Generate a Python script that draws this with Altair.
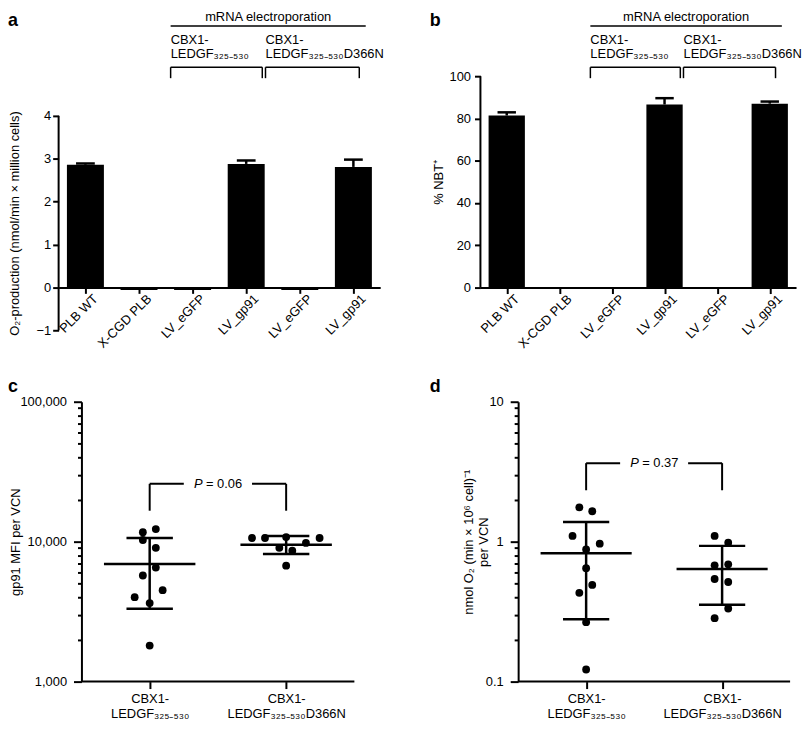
import json
import altair as alt
import pandas as pd

FONT = "Liberation Sans"

# ---------------- data ----------------
bar_categories = ["PLB WT", "X-CGD PLB", "LV_eGFP", "LV_gp91", "LV_eGFP", "LV_gp91"]
a_values = [2.86, -0.06, -0.06, 2.88, -0.06, 2.81]
a_errors = [0.03, 0.0, 0.0, 0.08, 0.0, 0.17]
b_values = [81.4, 0.0, 0.0, 86.6, 0.0, 87.0]
b_errors = [1.5, 0.0, 0.0, 3.0, 0.0, 1.0]

header_title = "mRNA electroporation"
header_line1 = ["CBX1-", "CBX1-"]
header_line2 = ["LEDGF\u2083\u2082\u2085\u208b\u2085\u2083\u2080", "LEDGF\u2083\u2082\u2085\u208b\u2085\u2083\u2080D366N"]
header_span_start = [2.09, 3.86]   # in bar-slot units
header_span_end = [3.80, 5.61]
header_line_span = [2.09, 5.73]

group_labels = [["CBX1-", "LEDGF\u2083\u2082\u2085\u208b\u2085\u2083\u2080"],
                ["CBX1-", "LEDGF\u2083\u2082\u2085\u208b\u2085\u2083\u2080D366N"]]

c_group1 = [11700, 12300, 10280, 9030, 6530, 5730, 4500, 4010, 3640, 1810]
c_jitter1 = [-0.05, 0.045, -0.05, 0.045, 0.045, -0.05, 0.095, -0.11, 0, 0]
c_group2 = [10620, 10620, 10790, 10620, 9790, 9030, 8610, 6740]
c_jitter2 = [-0.25, -0.155, 0, 0.245, 0.145, -0.05, 0.045, 0]
c_mean = [6930, 9520]
c_sd_high = [10620, 10970]
c_sd_low = [3320, 8150]
c_p_text = "= 0.06"
c_bracket = [25900, 16640]

d_group1 = [1.76, 1.65, 1.10, 0.968, 0.879, 0.647, 0.491, 0.431, 0.266, 0.122]
d_jitter1 = [-0.05, 0.045, -0.1, 0.1, 0, 0, 0.045, -0.05, 0, 0]
d_group2 = [1.10, 0.984, 0.678, 0.689, 0.541, 0.515, 0.333, 0.284]
d_jitter2 = [-0.055, 0.045, -0.055, 0.045, -0.055, 0.045, 0.045, -0.055]
d_mean = [0.828, 0.639]
d_sd_high = [1.38, 0.933]
d_sd_low = [0.279, 0.354]
d_p_text = "= 0.37"
d_bracket = [3.64, 2.33]

# ---------------- helpers ----------------
AX = dict(domainColor="black", domainWidth=2, tickColor="black", tickWidth=2,
          labelColor="black", labelFont=FONT, labelFontSize=13,
          titleFont=FONT, titleFontSize=13, titleFontWeight="normal",
          titleColor="black", grid=False, labelOverlap=False)


def letter(ch, dx, dy):
    return alt.Chart(pd.DataFrame({"t": [ch]})).mark_text(
        font=FONT, fontSize=18, fontWeight="bold", align="left",
        baseline="alphabetic", color="black").encode(
        text="t:N", x=alt.value(dx), y=alt.value(dy))


TOP_ROW1 = 73  # reference pixel of the top of the first-row plot areas


def bar_panel(values, errors, ydomain, yvalues, ytitle, width, height, extra_top,
              xoffset, let, label_pad, title_pad, title_y=None):
    n = len(values)
    df = pd.DataFrame({"cat": bar_categories, "value": values, "err": errors,
                       "pos": [i + 0.5 for i in range(n)]})
    unit = height / (ydomain[1] - ydomain[0])
    ytop = ydomain[1] + extra_top / unit
    xs = alt.Scale(domain=[0, n], nice=False, zero=False)
    ys = alt.Scale(domain=[ydomain[0], ytop], nice=False, zero=False)
    names = json.dumps(bar_categories)
    xaxis = alt.Axis(values=[i + 0.5 for i in range(n)], labelExpr=f"{names}[floor(datum.value)]",
                     labelAngle=-45, labelAlign="right", labelBaseline="middle",
                     labelPadding=3, labelOffset=10, tickSize=6, offset=xoffset,
                     title=None, **AX)
    yextra = {} if title_y is None else {"titleY": title_y}
    yaxis = alt.Axis(values=yvalues, tickSize=6, labelPadding=label_pad, title=ytitle, domain=False,
                     titlePadding=title_pad, **yextra, **AX)

    def X(f):
        return alt.X(f, type="quantitative", scale=xs, axis=xaxis)

    def Y(f):
        return alt.Y(f, type="quantitative", scale=ys, axis=yaxis)

    base = alt.Chart(df).transform_calculate(
        xs="datum.pos - 0.345", xe="datum.pos + 0.345",
        cs="datum.pos - 0.175", ce="datum.pos + 0.175",
        top="datum.value + datum.err")
    bars = base.mark_bar(color="black").encode(x=X("xs"), x2="xe:Q", y=Y("value"), y2=alt.datum(0))
    errv = base.transform_filter("datum.err > 0").mark_rule(color="black", strokeWidth=2.5).encode(
        x=X("pos"), y=Y("value"), y2="top:Q")
    errc = base.transform_filter("datum.err > 0").mark_rule(color="black", strokeWidth=2.5).encode(
        x=X("cs"), x2="ce:Q", y=Y("top"))
    # y axis line from the lowest to the highest tick
    yline = alt.Chart(pd.DataFrame({"x": [0], "lo": [ydomain[0]], "hi": [ydomain[1]]})).mark_rule(
        color="black", strokeWidth=2).encode(x=X("x"), y=Y("lo"), y2="hi:Q")

    # header (mRNA electroporation brackets), vertical offsets in px above the plot
    def py(p):
        return p - TOP_ROW1

    hdr = pd.DataFrame({"l1": header_line1, "l2": header_line2,
                        "bs": header_span_start, "be": header_span_end})
    hb = alt.Chart(hdr)
    h_top = alt.Chart(pd.DataFrame({"a": [header_line_span[0]], "b": [header_line_span[1]],
                                    "t": [header_title]}))
    line = h_top.mark_rule(color="black", strokeWidth=1.5).encode(
        x=X("a"), x2="b:Q", y=alt.value(py(22.5)))
    htxt = h_top.transform_calculate(m="(datum.a + datum.b) / 2").mark_text(
        font=FONT, fontSize=13, color="black", align="center", baseline="alphabetic").encode(
        x=X("m"), y=alt.value(py(17.5)), text="t:N")
    bh = hb.mark_rule(color="black", strokeWidth=1.5).encode(x=X("bs"), x2="be:Q", y=alt.value(py(64)))
    bl = hb.mark_rule(color="black", strokeWidth=1.5).encode(x=X("bs"), y=alt.value(py(64)), y2=alt.value(py(75)))
    br = hb.mark_rule(color="black", strokeWidth=1.5).encode(x=X("be"), y=alt.value(py(64)), y2=alt.value(py(75)))
    t1 = hb.mark_text(font=FONT, fontSize=13, color="black", align="left", baseline="alphabetic").encode(
        x=X("bs"), y=alt.value(py(41)), text="l1:N")
    t2 = hb.mark_text(font=FONT, fontSize=13, color="black", align="left", baseline="alphabetic").encode(
        x=X("bs"), y=alt.value(py(54.5)), text="l2:N")
    lt = letter(let, -51, py(22))
    return alt.layer(bars, errv, errc, yline, line, htxt, bh, bl, br, t1, t2, lt).properties(
        width=width, height=height + extra_top)


def log_ticks(lo_exp, hi_exp):
    vals = []
    for e in range(lo_exp, hi_exp):
        for k in range(1, 10):
            vals.append(round(k * 10 ** e, 6))
    vals.append(round(10 ** hi_exp, 6))
    return vals


def dot_panel(g1, j1, g2, j2, mean, sdh, sdl, ydomain, yvalues, yfmt, ytitle, ptext, bracket,
              width, height, extra_left, let, title_pad):
    pts = pd.DataFrame({"g": [0] * len(g1) + [1] * len(g2),
                        "v": g1 + g2, "j": j1 + j2})
    summ = pd.DataFrame({"g": [0, 1], "mean": mean, "hi": sdh, "lo": sdl})
    unit = width / 2.0
    xs = alt.Scale(domain=[-0.5 - extra_left / unit, 1.5], nice=False, zero=False)
    ys = alt.Scale(type="log", domain=ydomain, nice=False)
    lab = json.dumps(group_labels)
    xaxis = alt.Axis(values=[0, 1], labelExpr=f"{lab}[datum.value]", tickSize=7, labelPadding=4,
                     labelLineHeight=15, labelBaseline="top", title=None, domain=False, **AX)
    major = json.dumps(yvalues)
    yaxis = alt.Axis(values=log_ticks(*yfmt[0]), format=yfmt[1], offset=-extra_left,
                     labelExpr=f"indexof({major}, datum.value) >= 0 ? datum.label : ''",
                     tickSize={"condition": {"test": f"indexof({major}, datum.value) >= 0", "value": 8}, "value": 4},
                     labelPadding=7, title=ytitle, titlePadding=title_pad, titleLineHeight=15, **AX)

    def X(f):
        return alt.X(f, type="quantitative", scale=xs, axis=xaxis)

    def Y(f):
        return alt.Y(f, type="quantitative", scale=ys, axis=yaxis)

    points = alt.Chart(pts).transform_calculate(xp="datum.g + datum.j").mark_circle(
        color="black", opacity=1, size=62).encode(x=X("xp"), y=Y("v"))
    sb = alt.Chart(summ).transform_calculate(
        ms="datum.g - 0.335", me="datum.g + 0.335", cs="datum.g - 0.17", ce="datum.g + 0.17")
    mean_r = sb.mark_rule(color="black", strokeWidth=2.5).encode(x=X("ms"), x2="me:Q", y=Y("mean"))
    sd_v = sb.mark_rule(color="black", strokeWidth=2.5).encode(x=X("g"), y=Y("lo"), y2="hi:Q")
    cap_h = sb.mark_rule(color="black", strokeWidth=2.5).encode(x=X("cs"), x2="ce:Q", y=Y("hi"))
    cap_l = sb.mark_rule(color="black", strokeWidth=2.5).encode(x=X("cs"), x2="ce:Q", y=Y("lo"))
    # x axis line from the y axis to the right end
    xline = alt.Chart(pd.DataFrame({"a": [-0.5], "b": [1.5], "y": [ydomain[0]]})).mark_rule(
        color="black", strokeWidth=2).encode(x=X("a"), x2="b:Q", y=Y("y"))

    br = pd.DataFrame({"s": [0, 0.75], "e": [0.25, 1], "top": [bracket[0]] * 2})
    brv = pd.DataFrame({"x": [0, 1], "top": [bracket[0]] * 2, "bot": [bracket[1]] * 2})
    bh = alt.Chart(br).mark_rule(color="black", strokeWidth=2).encode(x=X("s"), x2="e:Q", y=Y("top"))
    bv = alt.Chart(brv).mark_rule(color="black", strokeWidth=2).encode(x=X("x"), y=Y("bot"), y2="top:Q")
    ptx = pd.DataFrame({"x": [0.5], "top": [bracket[0]], "p": ["P"], "r": [ptext]})
    p1 = alt.Chart(ptx).mark_text(font=FONT, fontSize=13, fontStyle="italic", color="black",
                                  align="left", baseline="middle", dx=-24).encode(
        x=X("x"), y=Y("top"), text="p:N")
    p2 = alt.Chart(ptx).mark_text(font=FONT, fontSize=13, color="black",
                                  align="left", baseline="middle", dx=-12).encode(
        x=X("x"), y=Y("top"), text="r:N")
    lt = letter(let, -51, -10)
    return alt.layer(points, mean_r, sd_v, cap_h, cap_l, xline, bh, bv, p1, p2, lt).properties(
        width=width + extra_left, height=height)


pa = bar_panel(a_values, a_errors, [-1, 4], [-1, 0, 1, 2, 3, 4],
               "O\u2082-production (nmol/min \u00d7 million cells)", 324, 216, 40, -43.2,
               "a", 2, 15, title_y=148)
pb = bar_panel(b_values, b_errors, [0, 100], [0, 20, 40, 60, 80, 100],
               "% NBT\u207a", 318, 213, 0, 0, "b", 4, 4)

pc = dot_panel(c_group1, c_jitter1, c_group2, c_jitter2, c_mean, c_sd_high, c_sd_low,
               [1000, 100000], [1000, 10000, 100000], ((3, 5), ","), "gp91 MFI per VCN",
               c_p_text, c_bracket, 275, 282, 23, "c", -3)
pd_ = dot_panel(d_group1, d_jitter1, d_group2, d_jitter2, d_mean, d_sd_high, d_sd_low,
                [0.1, 10], [0.1, 1, 10], ((-1, 1), "~g"),
                ["nmol O\u2082 (min \u00d7 10\u2076 cell)\u207b\u00b9", "per VCN"],
                d_p_text, d_bracket, 274, 282, 38, "d", -5)

chart = alt.concat(pa, pb, pc, pd_, columns=2, align="each",
                   spacing=alt.RowColnumber(row=27, column=46)).properties(
    padding=0).configure_view(stroke=None)

chart.save("out.html", embed_options={"renderer": "svg", "actions": False})
